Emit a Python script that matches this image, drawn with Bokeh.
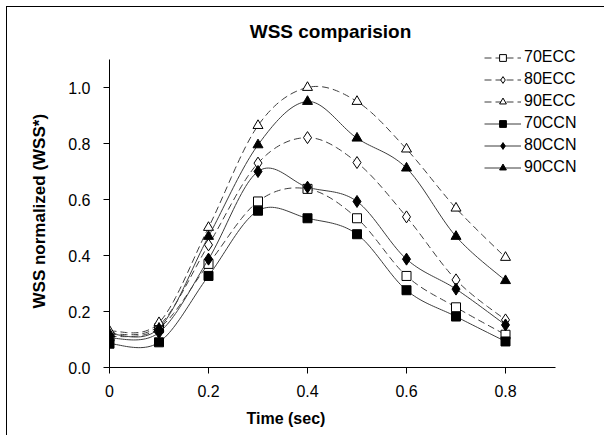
import numpy as np
from bokeh.plotting import figure
from bokeh.models import Range1d, Label, Legend, LegendItem, FixedTicker, NumeralTickFormatter, Title
from bokeh.embed import file_html
from bokeh.resources import INLINE

# ---- data ----
time = [0.0, 0.1, 0.2, 0.3, 0.4, 0.5, 0.6, 0.7, 0.8]
ecc70 = [0.110, 0.140, 0.370, 0.593, 0.638, 0.533, 0.327, 0.215, 0.117]
ecc80 = [0.120, 0.150, 0.438, 0.730, 0.821, 0.732, 0.538, 0.313, 0.170]
ecc90 = [0.130, 0.160, 0.500, 0.864, 1.000, 0.950, 0.780, 0.569, 0.393]
ccn70 = [0.085, 0.090, 0.327, 0.560, 0.533, 0.476, 0.276, 0.182, 0.093]
ccn80 = [0.105, 0.125, 0.387, 0.700, 0.644, 0.593, 0.387, 0.280, 0.152]
ccn90 = [0.120, 0.140, 0.468, 0.795, 0.950, 0.819, 0.712, 0.468, 0.310]
series_names = ["70ECC", "80ECC", "90ECC", "70CCN", "80CCN", "90CCN"]
x_ticks = [0, 0.2, 0.4, 0.6, 0.8]
y_ticks = [0.0, 0.2, 0.4, 0.6, 0.8, 1.0]

FONT = "Liberation Sans"


def smooth(xs, ys, n=24):
    # Excel-like smoothed line: cubic Bezier through the points
    P = np.column_stack([xs, ys]).astype(float)
    m = len(P)
    out = []
    for i in range(m - 1):
        p0 = P[i - 1] if i > 0 else P[i]
        p1 = P[i]
        p2 = P[i + 1]
        p3 = P[i + 2] if i + 2 < m else P[i + 1]
        c1 = p1 + (p2 - p0) / 6.0
        c2 = p2 - (p3 - p1) / 6.0
        t = np.linspace(0, 1, n, endpoint=(i == m - 2))[:, None]
        seg = ((1 - t) ** 3) * p1 + 3 * ((1 - t) ** 2) * t * c1 + 3 * (1 - t) * t * t * c2 + (t ** 3) * p2
        out.append(seg)
    arr = np.vstack(out)
    return arr[:, 0], arr[:, 1]


# frame spans to the top/right edges so that title & legend are not clipped;
# axis lines are bounded to the chart's own extent
p = figure(frame_width=495, frame_height=360, output_backend="svg", toolbar_location=None,
           x_range=Range1d(0, 495 / 495.0), y_range=Range1d(0, 360 / 280.0),
           min_border_left=102, min_border_right=0, min_border_top=0, min_border_bottom=68)
p.margin = (6, 0, 0, 6)
p.styles = {"border-left": "1px solid black", "border-top": "1px solid black"}
p.outline_line_color = None
p.xgrid.visible = False
p.ygrid.visible = False
p.background_fill_color = "white"

for ax in (p.xaxis[0], p.yaxis[0]):
    ax.axis_line_color = "black"
    ax.major_tick_line_color = "black"
    ax.minor_tick_line_color = None
    ax.major_tick_out = 6
    ax.major_tick_in = 0
    ax.major_label_text_font = FONT
    ax.major_label_text_font_size = "16px"
    ax.major_label_text_color = "black"

p.xaxis.ticker = FixedTicker(ticks=x_ticks)
p.yaxis.ticker = FixedTicker(ticks=y_ticks)
p.xaxis.bounds = (0, 0.9)
p.yaxis.bounds = (0, 1.1)
p.xaxis.formatter = NumeralTickFormatter(format="0.[0]")
p.yaxis.formatter = NumeralTickFormatter(format="0.0")
p.xaxis.major_label_standoff = 11
p.yaxis.major_label_standoff = 13

line_col = "#3c3c3c"
specs = [
    (ecc70, "square", "white", "dashed"),
    (ecc80, "diamond", "white", "dashed"),
    (ecc90, "triangle", "white", "dashed"),
    (ccn70, "square", "black", "solid"),
    (ccn80, "diamond", "black", "solid"),
    (ccn90, "triangle", "black", "solid"),
]
sizes = {"square": 9, "triangle": 10, "diamond": 12}

items = []
for name, (vals, marker, fill, kind) in zip(series_names, specs):
    sx, sy = smooth(time, vals)
    dash = "7 4" if kind == "dashed" else "solid"
    lr = p.line(sx, sy, line_color=line_col, line_width=1, line_dash=dash)
    mr = p.scatter(x=time, y=vals, marker=marker, size=sizes[marker],
                   fill_color=fill, line_color="black", line_width=1)
    items.append(LegendItem(label=name, renderers=[lr, mr]))

legend = Legend(items=items, location=(375, 191), orientation="vertical",
                glyph_width=37, glyph_height=17, label_height=17, spacing=4,
                label_standoff=3, padding=0, margin=0,
                border_line_color=None, background_fill_alpha=0,
                label_text_font=FONT, label_text_font_size="16px", label_text_color="black")
p.add_layout(legend, "center")

p.add_layout(Label(x=221, y=336, x_units="screen", y_units="screen", text="WSS comparision",
                   text_font=FONT, text_font_size="19px", text_font_style="bold",
                   text_align="center", text_baseline="middle", text_color="black"))

xlab = Title(text="Time (sec)", align="left", offset=137, standoff=16,
             text_font=FONT, text_font_size="16px", text_font_style="bold", text_color="black")
p.add_layout(xlab, "below")
ylab = Title(text="WSS normalized (WSS*)", align="left", offset=59, standoff=34,
             text_font=FONT, text_font_size="17px", text_font_style="bold", text_color="black")
p.add_layout(ylab, "left")

open("out.html", "w").write(file_html(p, INLINE))
